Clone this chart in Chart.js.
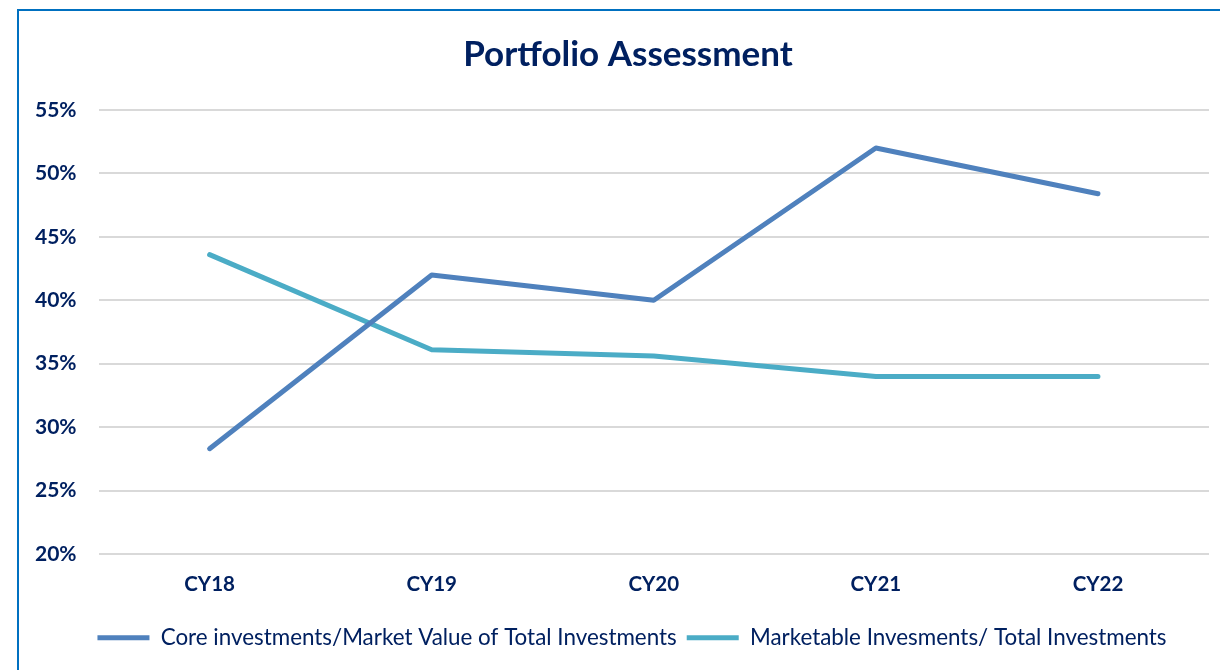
<!DOCTYPE html>
<html>
<head>
<meta charset="utf-8">
<script src="https://cdn.jsdelivr.net/npm/chart.js@4.4.0/dist/chart.umd.min.js"></script>
<style>
  html, body { margin: 0; padding: 0; background: #fff; overflow: hidden; }
  #marco {
    position: absolute; left: 17px; top: 9px;
    width: 1226px; height: 700px;
    border: 2px solid #0070C0;
    background: #fff;
  }
  #caja { position: relative; width: 1226px; height: 659px; }
</style>
</head>
<body>
<div id="marco">
  <div id="caja"><canvas id="grafico__main"></canvas></div>
</div>
<script>
// datos
const categorias = ['CY18', 'CY19', 'CY20', 'CY21', 'CY22'];
const core = [28.3, 42.0, 40.0, 52.0, 48.4];
const marketable = [43.6, 36.1, 35.6, 34.0, 34.0];
const nombreCore = 'Core investments/Market Value of Total Investments';
const nombreMarketable = 'Marketable Invesments/ Total Investments';
const ticksY = [20, 25, 30, 35, 40, 45, 50, 55];

const azulTexto = '#002060';
Chart.defaults.font.family = 'Lato, "Open Sans", sans-serif';
Chart.defaults.color = azulTexto;

let grafico = null;

// corre titulo y leyenda para centrarlos como en la hoja original
const centrado = {
  id: 'centrado',
  afterLayout(chart){
    const t = chart.titleBlock;
    if(t){ t.left += 17; t.right += 17; }
    const l = chart.legend;
    if(l){ l.left += 21; l.right += 21; l.top += 2; l.bottom += 2; }
  }
};

function serie(label, data, color){
  return {
    label: label,
    data: data,
    borderColor: color,
    backgroundColor: color,
    borderWidth: 5,
    borderCapStyle: 'round',
    borderJoinStyle: 'round',
    pointRadius: 0,
    pointHoverRadius: 0,
    pointStyle: 'line',
    tension: 0
  };
}

function pintaGrafico(){
  const config = {
    type: 'line',
    data: {
      labels: categorias,
      datasets: [
        serie(nombreCore, core, '#4F81BD'),
        serie(nombreMarketable, marketable, '#4BACC6')
      ]
    },
    options: {
      responsive: true,
      maintainAspectRatio: false,
      animation: false,
      layout: { padding: { left: -6, right: 36, top: 12, bottom: 13 } },
      plugins: {
        title: {
          display: true,
          text: 'Portfolio Assessment',
          color: azulTexto,
          font: { size: 35, weight: 'bold' },
          padding: { top: 11, bottom: 34 }
        },
        legend: {
          position: 'bottom',
          labels: {
            usePointStyle: true,
            pointStyleWidth: 52,
            boxHeight: 5,
            padding: 10,
            color: azulTexto,
            font: { size: 22.4 }
          }
        },
        tooltip: { enabled: false }
      },
      scales: {
        x: {
          offset: true,
          grid: { display: false, drawTicks: false },
          border: { display: false },
          ticks: { color: azulTexto, font: { size: 20.5, weight: 'bold' }, padding: 18 }
        },
        y: {
          min: ticksY[0],
          max: ticksY[ticksY.length - 1],
          afterBuildTicks: eje => { eje.ticks = ticksY.map(v => ({ value: v })); },
          grid: { color: '#D9D9D9', lineWidth: 2, drawTicks: false },
          border: { display: false },
          ticks: {
            color: azulTexto,
            font: { size: 21, weight: 'bold' },
            padding: 22,
            callback: v => v + '%'
          }
        }
      }
    },
    plugins: [centrado]
  };
  if(grafico != null){
    grafico.destroy();
  }
  grafico = new Chart(document.querySelector('#grafico__main'), config);
}

pintaGrafico();
</script>
</body>
</html>
